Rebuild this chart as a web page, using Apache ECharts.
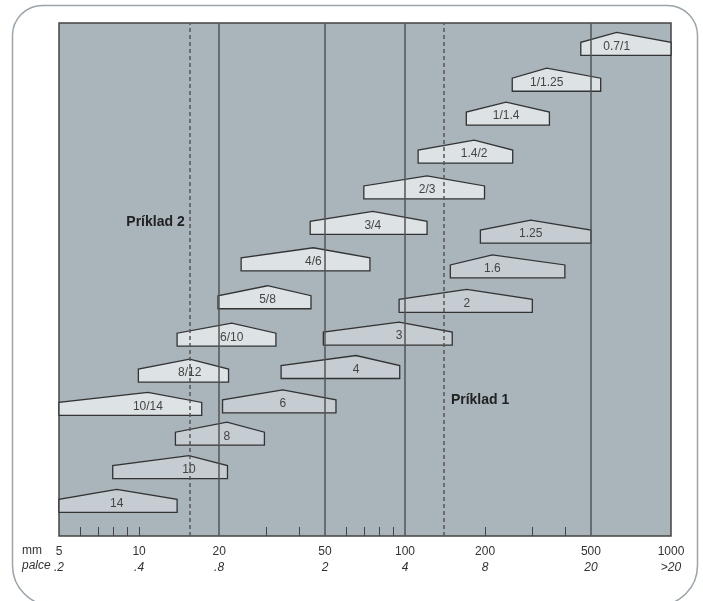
<!DOCTYPE html>
<html><head><meta charset="utf-8">
<script src="https://cdn.jsdelivr.net/npm/echarts@6/dist/echarts.min.js"></script>
<style>html,body{margin:0;padding:0;background:#fff}#c{width:703px;height:601px}</style>
</head><body><div id="c"></div>
<script>
// Light (pitch) shapes: min, peak, max (mm) and vertical level
const lightLabels = ['0.7/1','1/1.25','1/1.4','1.4/2','2/3','3/4','4/6','5/8','6/10','8/12','10/14'];
const lightMin   = [458, 253, 170, 112, 70, 44, 24.2, 19.8, 13.9, 9.94, 5];
const lightPeak  = [625, 341, 240, 182, 121, 75.6, 45.2, 30.4, 22.3, 15.5, 10.8];
const lightMax   = [1000, 544, 349, 254, 199, 121, 73.8, 44.3, 32.7, 21.7, 17.2];
const lightLevel = [93.7, 86.7, 80.1, 72.7, 65.7, 58.8, 51.7, 44.3, 37.0, 30.0, 23.5];
// Dark shapes
const darkLabels = ['1.25','1.6','2','3','4','6','8','10','14'];
const darkMin   = [192, 148, 95, 49.3, 34.2, 20.6, 13.7, 7.96, 5];
const darkPeak  = [297, 213, 170.6, 95, 65.4, 34.7, 21.4, 15.4, 8.24];
const darkMax   = [500, 399, 301, 150.5, 95.5, 55, 29.6, 21.5, 13.9];
const darkLevel = [57.1, 50.3, 43.6, 37.2, 30.7, 24.0, 17.7, 11.2, 4.6];
// Axis
const mmTicks = [5, 10, 20, 50, 100, 200, 500, 1000];
const palceLabels = ['.2', '.4', '.8', '2', '4', '8', '20', '>20'];
const minorTicks = [6, 7, 8, 9, 10, 30, 40, 60, 70, 80, 90, 200, 300, 400];
const solidLines = [20, 50, 100, 500];
const dashedLines = [15.5, 140];
// Annotations
const noteTexts = ['Príklad 2', 'Príklad 1'];
const noteX = [15.5, 140];
const noteLevel = [61.2, 26.5];
const noteSide = ['left', 'right'];

function shapeSeries(labels, mins, peaks, maxs, levels, fill) {
  return {
    type: 'custom', z: 2, clip: false,
    data: labels.map((l, i) => [mins[i], peaks[i], maxs[i], levels[i]]),
    renderItem: function (params, api) {
      const lvl = api.value(3);
      const a = api.coord([api.value(0), lvl]);
      const p = api.coord([api.value(1), lvl]);
      const b = api.coord([api.value(2), lvl]);
      const H = 13, R = 10, y = a[1];
      return { type: 'group', children: [
        { type: 'polygon', shape: { points: [[a[0], y], [a[0], y - H], [p[0], y - H - R], [b[0], y - H], [b[0], y]] },
          style: { fill: fill, stroke: '#333', lineWidth: 1.3 } },
        { type: 'text', style: { text: labels[params.dataIndex], x: p[0], y: y - H / 2 - 2.5, align: 'center', verticalAlign: 'middle',
          font: '12px "Liberation Sans", Arial, sans-serif', fill: '#444' } }
      ]};
    }
  };
}

const chart = echarts.init(document.getElementById('c'), null, { renderer: 'canvas' });
chart.setOption({
  animation: false,
  backgroundColor: '#fff',
  graphic: [
    { type: 'rect', z: -10, shape: { x: 12.5, y: 5.5, width: 685, height: 600, r: [30, 30, 40, 40] },
      style: { fill: '#fff', stroke: '#9aa4ab', lineWidth: 1.5 } },
    { type: 'text', left: 22, top: 545, style: { text: 'mm', font: '12px "Liberation Sans", Arial, sans-serif', fill: '#333' } },
    { type: 'text', left: 22, top: 560, style: { text: 'palce', font: 'italic 12px "Liberation Sans", Arial, sans-serif', fill: '#333' } }
  ],
  grid: { left: 59, right: 32, top: 23, bottom: 65, show: true, backgroundColor: '#a9b4bb', borderColor: '#444', borderWidth: 1.5 },
  xAxis: {
    type: 'log', logBase: 10, min: 5, max: 1000,
    axisLine: { show: false },
    splitLine: { show: false },
    minorTick: { show: false },
    axisTick: { show: true, inside: true, length: 9, customValues: minorTicks, lineStyle: { color: '#444', width: 1 } },
    axisLabel: {
      customValues: mmTicks, margin: 8,
      formatter: function (v) {
        let idx = 0, best = Infinity;
        mmTicks.forEach((t, i) => { const d = Math.abs(Math.log(t) - Math.log(v)); if (d < best) { best = d; idx = i; } });
        return '{a|' + mmTicks[idx] + '}\n{b|' + palceLabels[idx] + '}';
      },
      rich: {
        a: { fontSize: 12, fontFamily: '"Liberation Sans", Arial, sans-serif', color: '#333', lineHeight: 16 },
        b: { fontSize: 12, fontFamily: '"Liberation Sans", Arial, sans-serif', fontStyle: 'italic', color: '#333', lineHeight: 16 }
      }
    }
  },
  yAxis: { type: 'value', min: 0, max: 100, show: false },
  series: [
    shapeSeries(darkLabels, darkMin, darkPeak, darkMax, darkLevel, '#c5cdd3'),
    shapeSeries(lightLabels, lightMin, lightPeak, lightMax, lightLevel, '#dde2e5'),
    {
      type: 'line', data: [], z: 5,
      markLine: {
        silent: true, symbol: 'none', label: { show: false }, animation: false,
        data: solidLines.map(v => ({ xAxis: v, lineStyle: { color: '#555', width: 1.5, type: 'solid' } }))
          .concat(dashedLines.map(v => ({ xAxis: v, lineStyle: { color: '#555', width: 1.5, type: [4, 3] } })))
      }
    },
    {
      type: 'custom', z: 6, clip: false,
      data: noteTexts.map((t, i) => [noteX[i], noteLevel[i]]),
      renderItem: function (params, api) {
        const c = api.coord([api.value(0), api.value(1)]);
        const side = noteSide[params.dataIndex];
        return { type: 'text', style: { text: noteTexts[params.dataIndex], x: side === 'left' ? c[0] - 5 : c[0] + 7, y: c[1],
          align: side === 'left' ? 'right' : 'left', verticalAlign: 'middle',
          font: 'bold 14px "Liberation Sans", Arial, sans-serif', fill: '#222' } };
      }
    }
  ]
});
</script>
</body></html>
